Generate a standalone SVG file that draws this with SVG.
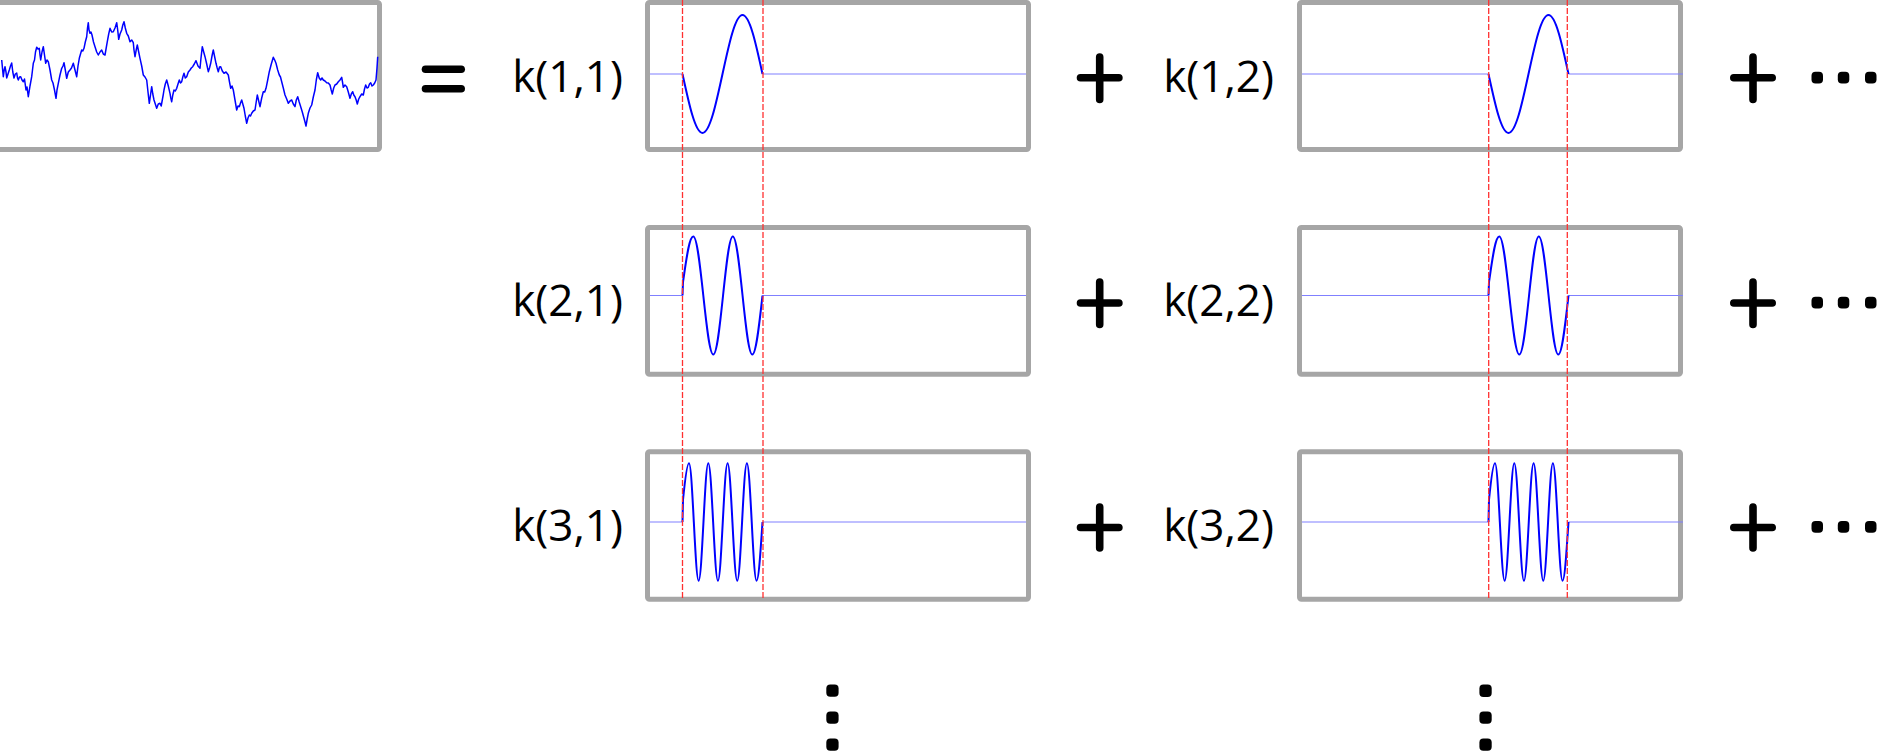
<svg xmlns="http://www.w3.org/2000/svg" width="1879" height="755" viewBox="0 0 1879 755">
<style>
.box{fill:#fff;stroke:#a6a6a6;stroke-width:5;}
.base{stroke:#8080ff;stroke-width:1.2;fill:none;}
.wave{stroke:#0000ff;stroke-width:2;fill:none;stroke-linejoin:round;}
.dash{stroke:#ff3030;stroke-width:1.3;stroke-dasharray:6 2;fill:none;}
.lbl{font-family:"Open Sans","Liberation Sans",sans-serif;font-size:44px;fill:#000;text-anchor:end;}
.op{stroke:#000;stroke-width:7.6;stroke-linecap:round;fill:none;}
.dot{fill:#000;}
</style>
<defs>
<path id="w1" class="wave" d="M682.5,74 C689.02,104.2 695.26,133 702.5,133 C709.74,133 715.98,104.2 722.5,74 C729.02,43.8 735.26,15 742.5,15 C749.74,15 755.98,43.8 762.5,74"/>
<path id="w2" class="wave" d="M682.5,295.5 L683,282 C686,262 689,236.5 693.3,236.5 C696.92,236.5 700.04,265.3 703.3,295.5 C706.56,325.7 709.68,354.5 713.3,354.5 C716.83,354.5 719.87,325.7 723.05,295.5 C726.23,265.3 729.27,236.5 732.8,236.5 C736.33,236.5 739.37,265.3 742.55,295.5 C745.73,325.7 748.77,354.5 752.3,354.5 C756,354.5 759.17,325.7 762.5,295.5"/>
<path id="w3" class="wave" d="M682.5,522 L683,500 C685,480 687,463.3 689,463.3 C690.75,463.3 692.25,491.9 693.83,522 C695.4,552.1 696.9,580.7 698.65,580.7 C700.4,580.7 701.9,552.1 703.48,522 C705.05,491.9 706.55,463.3 708.3,463.3 C710.05,463.3 711.55,491.9 713.13,522 C714.7,552.1 716.2,580.7 717.95,580.7 C719.7,580.7 721.2,552.1 722.78,522 C724.35,491.9 725.85,463.3 727.6,463.3 C729.35,463.3 730.85,491.9 732.43,522 C734,552.1 735.5,580.7 737.25,580.7 C739,580.7 740.5,552.1 742.08,522 C743.65,491.9 745.15,463.3 746.9,463.3 C748.65,463.3 750.15,491.9 751.73,522 C753.3,552.1 754.8,580.7 756.55,580.7 C758.7,580.7 760.5,552.1 762.5,522"/>
</defs>

<g id="signal">
<rect class="box" x="-3" y="2.5" width="382.5" height="147" rx="2"/>
<polyline fill="none" stroke="#0000ff" stroke-width="1.5" stroke-linejoin="round" points="1.7,60 3.3,76.7 4.2,70 5,66.7 6,72 6.7,78 8,74 9.3,70 10.5,66 11.7,63 12.8,72 14,78 15.3,74 16.7,73 17.5,78 18.3,80 19.5,77 20.7,76.7 22,80 23.3,81.7 24.5,79 26,90 27,87 28.3,96.7 30,86 31.7,76.7 32.5,70 33.3,63.3 34.5,60 35.5,52 36.7,47.3 38,49 39.3,48.3 40,55 40.7,60 42,52 43.3,46.7 44.5,55 45.7,63.3 47,60 48.3,61.7 50,70 51.7,80 53,83 54.5,90 56,98.3 57,90 58.3,83.3 60,75 61.7,68.3 63,66 64,62.7 65.3,70 66.7,78.3 68.3,72 70,70 71.5,68 73.3,63.3 75,70 76.7,76.7 78,66 79.3,58.3 80.5,54 81.7,50 82.8,51 84,48.3 85.3,42 86.7,36.7 87.5,28 88.3,22.7 89,30 90,33.3 91,32 92,35 93.5,42 95,46.7 96.7,52 98.3,55 100,52 101.7,50 103.3,54 105,55 106.2,48 107.3,41.7 108.7,34 110,28.3 111.7,32 113.3,31.7 115,28 116.7,22.7 117.7,30 118.7,39.3 120,34 121.7,30 122.8,25 124,21.7 125.3,28 126.7,33.3 128.3,36 130,41.7 131.7,40 133.3,42.7 134,50 135,56.7 136.2,50 137.3,45 138.7,52 140,58.3 141.7,66 143.3,75 145,77 146.7,80 148,92 149.3,103.3 150.5,95 151.7,86.7 152.8,94 154,100 155.3,104 156.7,108.3 158.3,104 160,103.3 161.2,106 162.3,100 163.2,95 164,90 165.3,84 166.7,80 168.3,86 170,93.3 170.8,98 171.7,101.7 172.8,95 174,90 175.3,91 176.7,88.3 178,84 179.3,80 180.5,83 181.7,81.7 182.8,77 184,73.3 185.3,78 186.7,76.7 188.3,72 190,70 191.3,68 192.7,66.7 194.3,64 196,60.7 198,66 200,68.3 201,58 202.3,46.7 203.7,52 205,56.7 206.7,64 208.3,71.7 209.5,68 210.7,63.3 212,56 213.3,50 214.7,57 216,63.3 217.2,68 218.3,71.7 219.5,67 220.7,66.7 222.3,71 224,73.3 226,72 228.3,75 229.5,82 230.7,88.3 232,86 233.3,90 235,100 236.7,110 238,106 239.3,106.7 240.5,103 241.7,100 242.8,104 244,108.3 245.3,116 246.7,123.3 248,118 249.3,115 250.5,116 251.7,113.3 253.3,111 255,110 256.2,102 257.3,95 258.7,101 260,106.7 261.7,98 263.3,91.7 264.7,92 266,88.3 267.7,80 269.3,71.7 271.3,64 273.3,57.3 274.7,60 276,63.3 277.7,70 279.3,75 280.5,77 281.7,81.7 283.3,88 285,95 286.7,99 288.3,103.3 290,101 291.7,100 293.3,104 295,106.7 296.3,100 297.7,96.7 299.2,102 300.7,106.7 302.3,112 304,118.3 305,122 306,126 307.2,119 308.3,113.3 310,108 311.7,105 313.3,97 315,90 316.3,80 317.7,72.7 319.2,78 320.7,80 322,78 323.3,80 325,81 326.7,82.7 328.3,83 330,85 331.2,90 332.3,94 333.7,88 335,85 336.7,84 338.3,81.7 340,80 341.7,77.3 342.5,82 343.3,87.3 345,85 346.7,86.7 348.3,92 350,98.3 351.3,94 352.7,91.7 353.8,95 355,96.7 356.2,100 357.3,104 358.7,99 360,96.7 361.7,94 363.3,95 364.5,89 365.7,85 367,88 368.3,87.3 369.5,84 370.7,82.7 372,86 373.3,85 374.7,83 376,80 377,68 377.7,56.7"/>
</g>

<g id="equals">
<line class="op" x1="425.5" y1="69.2" x2="461.2" y2="69.2"/>
<line class="op" x1="425.5" y1="88.8" x2="461.2" y2="88.8"/>
</g>

<g id="col1">
<g id="k11">
<rect class="box" x="647.5" y="2.5" width="381" height="147" rx="2"/>
<path class="base" d="M650,74 H682.5 M762.5,74 H1026"/>
<use href="#w1"/>
<text class="lbl" x="623" y="91.7">k(1,1)</text>
</g>
<g id="k21">
<rect class="box" x="647.5" y="227.5" width="381" height="146.7" rx="2"/>
<path class="base" d="M650,295.5 H682.5 M762.5,295.5 H1026"/>
<use href="#w2"/>
<text class="lbl" x="623" y="316">k(2,1)</text>
</g>
<g id="k31">
<rect class="box" x="647.5" y="451.7" width="381" height="147.5" rx="2"/>
<path class="base" d="M650,522 H682.5 M762.5,522 H1026"/>
<use href="#w3"/>
<text class="lbl" x="623" y="540.5">k(3,1)</text>
</g>
</g>

<g id="col2">
<g id="k12">
<rect class="box" x="1299.5" y="2.5" width="381" height="147" rx="2"/>
<path class="base" d="M1302,74 H1488.5 M1568.5,74 H1683"/>
<use href="#w1" transform="translate(806,0)"/>
<text class="lbl" x="1274" y="91.7">k(1,2)</text>
</g>
<g id="k22">
<rect class="box" x="1299.5" y="227.5" width="381" height="146.7" rx="2"/>
<path class="base" d="M1302,295.5 H1488.5 M1568.5,295.5 H1683"/>
<use href="#w2" transform="translate(806,0)"/>
<text class="lbl" x="1274" y="316">k(2,2)</text>
</g>
<g id="k32">
<rect class="box" x="1299.5" y="451.7" width="381" height="147.5" rx="2"/>
<path class="base" d="M1302,522 H1488.5 M1568.5,522 H1683"/>
<use href="#w3" transform="translate(806,0)"/>
<text class="lbl" x="1274" y="540.5">k(3,2)</text>
</g>
</g>

<g id="connectors">
<line class="dash" x1="682.5" y1="0" x2="682.5" y2="598"/>
<line class="dash" x1="763" y1="0" x2="763" y2="598"/>
<line class="dash" x1="1488.7" y1="0" x2="1488.7" y2="598"/>
<line class="dash" x1="1567.3" y1="0" x2="1567.3" y2="598"/>
</g>

<g id="operators">
<path class="op" d="M1080.5,77.8 H1118.9 M1099.7,57 V99.5"/>
<path class="op" d="M1080.5,303 H1118.9 M1099.7,282 V324.5"/>
<path class="op" d="M1080.5,527.5 H1118.9 M1099.7,507 V548"/>
<path class="op" d="M1733.8,77.8 H1772.2 M1753,57 V99.5"/>
<path class="op" d="M1733.8,303 H1772.2 M1753,282 V324.5"/>
<path class="op" d="M1733.8,527.5 H1772.2 M1753,507 V548"/>
</g>

<g id="ellipses">
<rect class="dot" x="1811.5" y="71.7" width="11.5" height="11.7" rx="4"/>
<rect class="dot" x="1837.8" y="71.7" width="11.5" height="11.7" rx="4"/>
<rect class="dot" x="1865" y="71.7" width="11.5" height="11.7" rx="4"/>
<rect class="dot" x="1811.5" y="296.7" width="11.5" height="11.7" rx="4"/>
<rect class="dot" x="1837.8" y="296.7" width="11.5" height="11.7" rx="4"/>
<rect class="dot" x="1865" y="296.7" width="11.5" height="11.7" rx="4"/>
<rect class="dot" x="1811.5" y="521" width="11.5" height="11.7" rx="4"/>
<rect class="dot" x="1837.8" y="521" width="11.5" height="11.7" rx="4"/>
<rect class="dot" x="1865" y="521" width="11.5" height="11.7" rx="4"/>
<rect class="dot" x="826.3" y="684.4" width="12.3" height="12.3" rx="4"/>
<rect class="dot" x="826.3" y="711.4" width="12.3" height="12.3" rx="4"/>
<rect class="dot" x="826.3" y="738.4" width="12.3" height="12.3" rx="4"/>
<rect class="dot" x="1479.4" y="684.6" width="12.3" height="12.3" rx="4"/>
<rect class="dot" x="1479.4" y="711.4" width="12.3" height="12.3" rx="4"/>
<rect class="dot" x="1479.4" y="738.4" width="12.3" height="12.3" rx="4"/>
</g>
</svg>
